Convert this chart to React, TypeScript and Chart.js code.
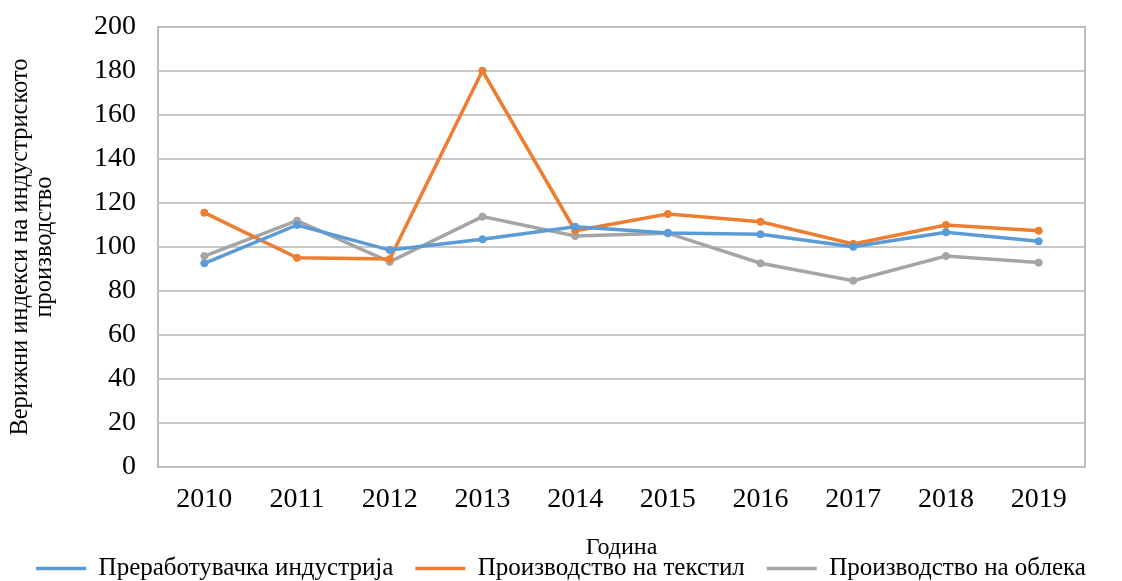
import { useEffect, useRef } from "react";
import { Chart, registerables } from "chart.js";

Chart.register(...registerables);

const years = ["2010", "2011", "2012", "2013", "2014", "2015", "2016", "2017", "2018", "2019"];
const manufacturing = [92.6, 110, 98.6, 103.5, 109.2, 106.4, 105.8, 100.1, 106.7, 102.6];
const textiles = [115.6, 95.1, 94.5, 180.1, 107.4, 115, 111.5, 101.4, 110, 107.4];
const clothing = [95.9, 112, 93.3, 113.8, 105, 106.3, 92.6, 84.7, 95.9, 92.9];
const seriesLabels = ["Преработувачка индустрија", "Производство на текстил", "Производство на облека"];
const seriesColors = ["#5B9BD5", "#ED7D31", "#A5A5A5"];
const yTitle = ["Верижни индекси на индустриското", "производство"];
const xTitle = "Година";

const FONT = '"Liberation Serif", "Times New Roman", serif';

export default function App() {
  const ref = useRef<HTMLCanvasElement>(null);

  useEffect(() => {
    if (!ref.current) return;
    const frame = {
      id: "frame",
      beforeDatasetsDraw(chart: any) {
        const { ctx, chartArea } = chart;
        const { left, top, right, bottom } = chartArea;
        ctx.save();
        ctx.strokeStyle = "#bdbdbd";
        ctx.lineWidth = 2;
        ctx.strokeRect(left, top, right - left, bottom - top);
        ctx.restore();
      },
    };
    const series = [manufacturing, textiles, clothing];
    const chart = new Chart(ref.current, {
      type: "line",
      data: {
        labels: years,
        datasets: series.map((d, i) => ({
          label: seriesLabels[i],
          data: d,
          borderColor: seriesColors[i],
          backgroundColor: seriesColors[i],
          pointBackgroundColor: seriesColors[i],
          pointBorderColor: seriesColors[i],
          borderWidth: 3.5,
          pointRadius: 3.6,
          pointBorderWidth: 1,
          tension: 0,
          yAxisID: "y",
        })),
      },
      options: {
        responsive: false,
        animation: false,
        layout: { padding: { top: 27, right: 0, left: 0, bottom: 0 } },
        plugins: {
          tooltip: { enabled: false },
          legend: {
            position: "bottom",
            maxHeight: 47,
            labels: {
              usePointStyle: true,
              pointStyle: "line",
              pointStyleWidth: 50,
              padding: 22,
              color: "#000",
              font: { family: FONT, size: 25 },
              generateLabels(chart: any) {
                return Chart.defaults.plugins.legend.labels
                  .generateLabels(chart)
                  .map((l: any) => ({ ...l, lineWidth: 3.5 }));
              },
            },
          },
        },
        scales: {
          x: {
            offset: true,
            grid: { display: false, drawTicks: false },
            border: { display: false },
            ticks: { color: "#000", padding: 16, font: { family: FONT, size: 28 } },
            title: {
              display: true,
              text: xTitle,
              color: "#000",
              font: { family: FONT, size: 24 },
              padding: { top: 0, bottom: -28 },
            },
            afterFit(scale: any) {
              scale.height = 67;
              scale.paddingLeft = 0;
              scale.paddingRight = 0;
            },
          },
          y: {
            min: 0,
            max: 200,
            grid: { color: "#c8c8c8", lineWidth: 2, drawTicks: false },
            border: { display: false },
            ticks: { stepSize: 20, color: "#000", padding: 22, font: { family: FONT, size: 28 } },
            title: {
              display: true,
              text: yTitle,
              color: "#000",
              font: { family: FONT, size: 24.5, lineHeight: 1.0 },
              padding: { top: 8, bottom: 0 },
            },
            afterFit(scale: any) {
              scale.width = 158;
              scale.paddingTop = 0;
              scale.paddingBottom = 0;
            },
          },
          yRight: {
            type: "linear",
            position: "right",
            display: true,
            grid: { display: false, drawTicks: false },
            border: { display: false },
            ticks: { display: false },
            afterFit(scale: any) {
              scale.width = 37;
              scale.paddingTop = 0;
              scale.paddingBottom = 0;
            },
          },
        },
      },
      plugins: [frame],
    });
    return () => chart.destroy();
  }, []);

  return (
    <div style={{ position: "absolute", left: 0, top: 0, width: 1122, height: 581, background: "#fff" }}>
      <canvas ref={ref} width={1122} height={581} style={{ display: "block" }} />
    </div>
  );
}
